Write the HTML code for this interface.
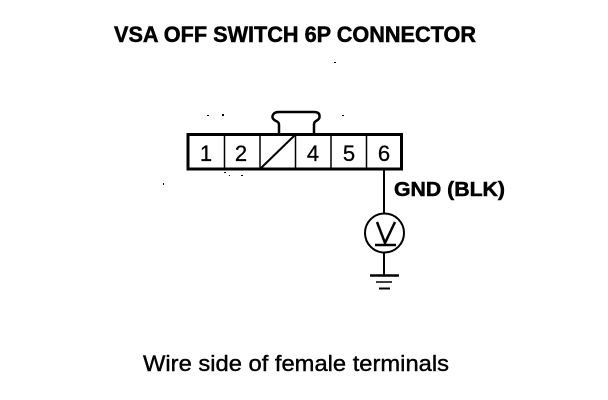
<!DOCTYPE html>
<html>
<head>
<meta charset="utf-8">
<style>
html,body{margin:0;padding:0;background:#fff;}
svg{display:block;}
text{font-family:"Liberation Sans",sans-serif;fill:#000;stroke:#000;}
</style>
</head>
<body>
<svg width="608" height="400" viewBox="0 0 608 400" xmlns="http://www.w3.org/2000/svg">
<rect width="608" height="400" fill="#fff"/>
<text x="114" y="42" font-size="22" font-weight="bold" stroke-width="0.5" textLength="362" lengthAdjust="spacingAndGlyphs">VSA OFF SWITCH 6P CONNECTOR</text>
<g fill="none" stroke="#000">
<path d="M188 134.500H401.500V169H188Z" stroke-width="3"/>
<path d="M224.500 134V169M260 134V169M295.500 134V169M331 134V169M366.500 134V169" stroke-width="1.500"/>
<path d="M261 168L295 135" stroke-width="2"/>
<path d="M279 133V125Q279 122 276 121Q272 119 272.500 116Q273.500 112 279 112H314Q319.500 112 319.500 116Q320 119 316 121Q314 122 314 125V133" stroke-width="2.500"/>
<path d="M384 169V213" stroke-width="2"/>
<circle cx="384.500" cy="233" r="19.500" stroke-width="2"/>
<path d="M377 222L385 243L395 222" stroke-width="2.500"/>
<path d="M375 245H396" stroke-width="2.500"/>
<path d="M384 252V275" stroke-width="2"/>
<path d="M370 275.500H399" stroke-width="2.500"/>
<path d="M376 282H392" stroke-width="1.500"/>
<path d="M379 288.500H390" stroke-width="2"/>
</g>
<g font-size="22" text-anchor="middle" stroke-width="0.300">
<text x="206" y="161">1</text>
<text x="241" y="161">2</text>
<text x="313" y="161">4</text>
<text x="349" y="161">5</text>
<text x="384" y="161">6</text>
</g>
<text x="394" y="196" font-size="20" font-weight="bold" stroke-width="0.500" textLength="111" lengthAdjust="spacingAndGlyphs">GND (BLK)</text>
<text x="143" y="371" font-size="22" stroke-width="0.400" textLength="306" lengthAdjust="spacingAndGlyphs">Wire side of female terminals</text>
<g fill="#000">
<rect x="207" y="115" width="2" height="1"/><rect x="222" y="114" width="2" height="2"/>
<rect x="224" y="172" width="2" height="1"/><rect x="241" y="175" width="2" height="1"/>
<rect x="342" y="115" width="2" height="1"/><rect x="163" y="183" width="1" height="2"/>
<rect x="334" y="62" width="2" height="1"/><rect x="229" y="175" width="1" height="1"/>
</g>
</svg>
</body>
</html>
